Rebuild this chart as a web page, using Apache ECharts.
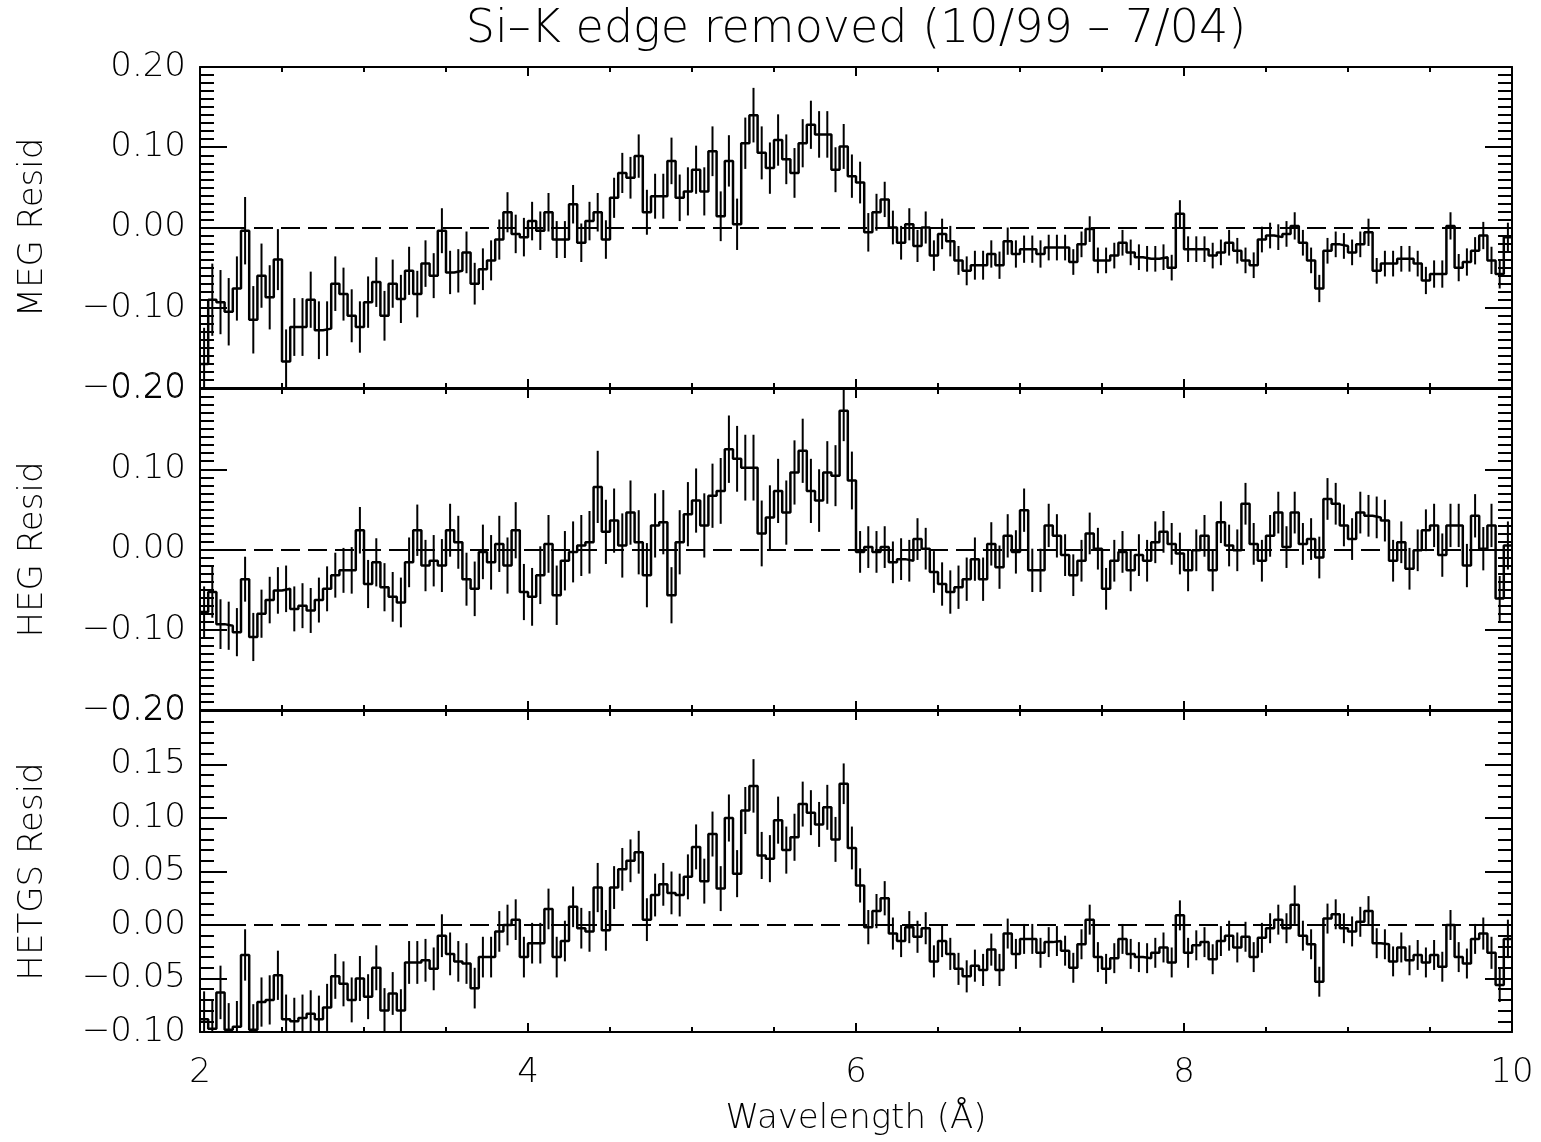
<!DOCTYPE html>
<html>
<head>
<meta charset="utf-8">
<script src="https://cdn.jsdelivr.net/npm/echarts@6/dist/echarts.min.js"></script>
<style>
  html, body { margin: 0; padding: 0; background: #fff; }
  #chart { width: 1541px; height: 1142px; }
</style>
</head>
<body>
<div id="chart"></div>
<script>
// bins of 0.05 A starting at 2 A
let lambdaStart = 2;
let binWidth = 0.05;

let megResid = [
  -0.17, -0.09, -0.093, -0.105, -0.076, -0.004, -0.115, -0.06, -0.087, -0.04,
  -0.167, -0.124, -0.124, -0.09, -0.128, -0.126, -0.07, -0.083, -0.11, -0.124,
  -0.093, -0.068, -0.11, -0.07, -0.089, -0.054, -0.083, -0.045, -0.06, -0.004,
  -0.056, -0.054, -0.031, -0.07, -0.052, -0.041, -0.015, 0.019, -0.008, -0.012,
  0.008, -0.004, 0.019, -0.015, -0.015, 0.029, -0.019, 0.008, 0.019, -0.015,
  0.037, 0.068, 0.062, 0.089, 0.019, 0.039, 0.039, 0.083, 0.037, 0.045,
  0.072, 0.045, 0.095, 0.014, 0.083, 0.004, 0.105, 0.14, 0.093, 0.074,
  0.109, 0.085, 0.068, 0.105, 0.128, 0.116, 0.116, 0.072, 0.101, 0.064,
  0.056, -0.006, 0.019, 0.035, 0, -0.019, 0.004, -0.023, 0, -0.035,
  -0.008, -0.017, -0.041, -0.054, -0.047, -0.047, -0.033, -0.047, -0.017, -0.033,
  -0.027, -0.027, -0.033, -0.025, -0.025, -0.025, -0.043, -0.021, -0.002, -0.041,
  -0.041, -0.035, -0.019, -0.031, -0.037, -0.039, -0.039, -0.037, -0.05, 0.017,
  -0.027, -0.027, -0.027, -0.035, -0.031, -0.019, -0.029, -0.041, -0.047, -0.015,
  -0.01, -0.012, -0.008, 0.002, -0.019, -0.041, -0.076, -0.029, -0.021, -0.023,
  -0.031, -0.021, -0.006, -0.054, -0.045, -0.045, -0.039, -0.039, -0.045, -0.066,
  -0.058, -0.058, 0.002, -0.05, -0.043, -0.029, -0.01, -0.041, -0.058, -0.012
];
let megErr = [
  0.045, 0.045, 0.04, 0.042, 0.04, 0.042, 0.042, 0.04, 0.04, 0.038,
  0.04, 0.036, 0.036, 0.035, 0.036, 0.034, 0.034, 0.033, 0.033, 0.032,
  0.032, 0.031, 0.031, 0.03, 0.03, 0.03, 0.029, 0.029, 0.028, 0.028,
  0.027, 0.027, 0.026, 0.026, 0.026, 0.025, 0.025, 0.025, 0.024, 0.024,
  0.024, 0.024, 0.024, 0.023, 0.023, 0.024, 0.024, 0.024, 0.024, 0.024,
  0.025, 0.025, 0.026, 0.027, 0.028, 0.028, 0.028, 0.029, 0.029, 0.03,
  0.03, 0.03, 0.031, 0.031, 0.032, 0.032, 0.032, 0.034, 0.033, 0.032,
  0.032, 0.031, 0.031, 0.03, 0.03, 0.029, 0.029, 0.028, 0.028, 0.027,
  0.026, 0.024, 0.023, 0.022, 0.021, 0.021, 0.02, 0.02, 0.02, 0.019,
  0.019, 0.019, 0.018, 0.018, 0.018, 0.018, 0.017, 0.017, 0.017, 0.017,
  0.017, 0.017, 0.017, 0.016, 0.016, 0.016, 0.016, 0.016, 0.016, 0.016,
  0.016, 0.016, 0.016, 0.016, 0.016, 0.016, 0.016, 0.016, 0.016, 0.017,
  0.016, 0.016, 0.016, 0.016, 0.016, 0.016, 0.016, 0.016, 0.016, 0.016,
  0.016, 0.016, 0.016, 0.017, 0.016, 0.016, 0.017, 0.016, 0.016, 0.016,
  0.016, 0.016, 0.017, 0.016, 0.016, 0.016, 0.016, 0.016, 0.016, 0.017,
  0.017, 0.017, 0.017, 0.017, 0.017, 0.017, 0.017, 0.017, 0.018, 0.018
];

let hegResid = [
  -0.078, -0.053, -0.093, -0.095, -0.103, -0.037, -0.109, -0.08, -0.063, -0.051,
  -0.049, -0.074, -0.07, -0.076, -0.063, -0.049, -0.032, -0.026, -0.026, 0.024,
  -0.043, -0.016, -0.047, -0.059, -0.066, -0.016, 0.024, -0.02, -0.014, -0.02,
  0.024, 0.009, -0.037, -0.049, -0.003, -0.016, 0.007, -0.02, 0.024, -0.053,
  -0.059, -0.032, 0.007, -0.057, -0.014, -0.003, 0.005, 0.009, 0.078, 0.022,
  0.036, 0.005, 0.046, 0.009, -0.032, 0.03, 0.034, -0.057, 0.009, 0.044,
  0.061, 0.03, 0.067, 0.073, 0.125, 0.113, 0.102, 0.102, 0.02, 0.04,
  0.073, 0.046, 0.096, 0.123, 0.073, 0.061, 0.096, 0.092, 0.173, 0.086,
  -0.003, 0.003, -0.003, 0.003, -0.016, -0.012, -0.014, 0.013, 0.001, -0.028,
  -0.043, -0.053, -0.047, -0.037, -0.012, -0.037, 0.007, -0.022, 0.017, -0.003,
  0.049, -0.026, -0.026, 0.03, 0.017, -0.007, -0.032, -0.014, 0.02, 0.001,
  -0.049, -0.014, -0.003, -0.026, -0.007, -0.014, 0.009, 0.022, 0.007, -0.005,
  -0.026, -0.001, 0.017, -0.026, 0.034, 0.005, -0.001, 0.057, 0.007, -0.014,
  0.017, 0.046, 0.003, 0.046, 0.007, 0.013, -0.01, 0.063, 0.057, 0.03,
  0.013, 0.046, 0.042, 0.04, 0.036, -0.014, 0.009, -0.024, -0.001, 0.024,
  0.03, -0.007, 0.03, 0.03, -0.02, 0.042, 0.001, 0.03, -0.061, 0.005
];
let hegErr = [
  0.032, 0.032, 0.031, 0.03, 0.03, 0.028, 0.03, 0.03, 0.029, 0.029,
  0.029, 0.028, 0.028, 0.028, 0.028, 0.028, 0.028, 0.028, 0.029, 0.029,
  0.03, 0.03, 0.03, 0.031, 0.031, 0.031, 0.032, 0.032, 0.032, 0.033,
  0.033, 0.033, 0.033, 0.034, 0.034, 0.034, 0.035, 0.035, 0.035, 0.035,
  0.036, 0.036, 0.036, 0.037, 0.037, 0.038, 0.038, 0.039, 0.045, 0.04,
  0.04, 0.04, 0.04, 0.04, 0.04, 0.04, 0.04, 0.035, 0.04, 0.04,
  0.04, 0.04, 0.04, 0.041, 0.042, 0.041, 0.041, 0.041, 0.041, 0.04,
  0.04, 0.04, 0.04, 0.04, 0.04, 0.039, 0.039, 0.038, 0.038, 0.036,
  0.026, 0.026, 0.026, 0.026, 0.026, 0.026, 0.026, 0.026, 0.026, 0.026,
  0.027, 0.027, 0.027, 0.027, 0.027, 0.027, 0.027, 0.027, 0.027, 0.027,
  0.027, 0.027, 0.027, 0.027, 0.027, 0.026, 0.026, 0.026, 0.026, 0.026,
  0.026, 0.026, 0.026, 0.026, 0.026, 0.026, 0.026, 0.026, 0.026, 0.026,
  0.026, 0.026, 0.026, 0.026, 0.026, 0.026, 0.026, 0.026, 0.026, 0.026,
  0.026, 0.026, 0.026, 0.026, 0.026, 0.026, 0.026, 0.026, 0.026, 0.026,
  0.026, 0.026, 0.026, 0.026, 0.026, 0.026, 0.026, 0.026, 0.026, 0.026,
  0.027, 0.027, 0.027, 0.027, 0.027, 0.027, 0.027, 0.027, 0.028, 0.03
];

let hetgsResid = [
  -0.088, -0.097, -0.063, -0.098, -0.095, -0.028, -0.098, -0.072, -0.07, -0.047,
  -0.088, -0.09, -0.087, -0.083, -0.088, -0.077, -0.048, -0.055, -0.07, -0.05,
  -0.067, -0.04, -0.08, -0.064, -0.08, -0.035, -0.035, -0.033, -0.041, -0.01,
  -0.027, -0.034, -0.036, -0.059, -0.03, -0.03, -0.006, 0, 0.005, -0.03,
  -0.017, -0.017, 0.015, -0.03, -0.015, 0.017, -0.003, -0.006, 0.035, -0.005,
  0.035, 0.052, 0.06, 0.068, 0.005, 0.028, 0.038, 0.03, 0.028, 0.045,
  0.073, 0.041, 0.085, 0.034, 0.1, 0.048, 0.107, 0.13, 0.065, 0.062,
  0.098, 0.07, 0.082, 0.113, 0.105, 0.094, 0.11, 0.08, 0.132, 0.072,
  0.037, -0.002, 0.013, 0.025, -0.008, -0.015, -0.002, -0.011, -0.003, -0.034,
  -0.015, -0.027, -0.041, -0.048, -0.038, -0.042, -0.023, -0.042, -0.008, -0.027,
  -0.013, -0.013, -0.026, -0.016, -0.015, -0.024, -0.04, -0.018, 0.005, -0.03,
  -0.041, -0.031, -0.013, -0.027, -0.03, -0.031, -0.026, -0.021, -0.035, 0.009,
  -0.026, -0.019, -0.016, -0.032, -0.015, -0.01, -0.021, -0.011, -0.03, -0.012,
  -0.003, 0.005, -0.003, 0.019, -0.01, -0.018, -0.053, 0.006, 0.01, -0.003,
  -0.006, 0.003, 0.013, -0.017, -0.018, -0.034, -0.021, -0.033, -0.028, -0.035,
  -0.028, -0.039, 0, -0.03, -0.036, -0.013, -0.008, -0.026, -0.056, -0.013
];
let hetgsErr = [
  0.026, 0.026, 0.025, 0.025, 0.024, 0.024, 0.024, 0.023, 0.023, 0.023,
  0.023, 0.022, 0.022, 0.022, 0.022, 0.022, 0.021, 0.021, 0.021, 0.021,
  0.021, 0.021, 0.021, 0.02, 0.02, 0.02, 0.02, 0.02, 0.02, 0.02,
  0.02, 0.019, 0.019, 0.019, 0.019, 0.019, 0.019, 0.019, 0.019, 0.019,
  0.019, 0.019, 0.019, 0.019, 0.019, 0.019, 0.019, 0.019, 0.023, 0.019,
  0.02, 0.02, 0.02, 0.02, 0.02, 0.02, 0.02, 0.02, 0.02, 0.021,
  0.021, 0.021, 0.021, 0.021, 0.022, 0.022, 0.022, 0.025, 0.022, 0.022,
  0.022, 0.022, 0.022, 0.021, 0.021, 0.021, 0.021, 0.021, 0.019, 0.02,
  0.016, 0.016, 0.016, 0.016, 0.015, 0.015, 0.015, 0.015, 0.015, 0.015,
  0.015, 0.015, 0.015, 0.015, 0.015, 0.015, 0.015, 0.015, 0.014, 0.014,
  0.014, 0.014, 0.014, 0.014, 0.014, 0.014, 0.014, 0.014, 0.014, 0.014,
  0.014, 0.014, 0.014, 0.014, 0.014, 0.014, 0.014, 0.014, 0.014, 0.014,
  0.014, 0.014, 0.014, 0.014, 0.014, 0.014, 0.014, 0.014, 0.014, 0.014,
  0.014, 0.014, 0.014, 0.018, 0.014, 0.014, 0.014, 0.014, 0.014, 0.014,
  0.014, 0.014, 0.014, 0.014, 0.014, 0.014, 0.014, 0.014, 0.014, 0.014,
  0.014, 0.014, 0.014, 0.014, 0.014, 0.014, 0.015, 0.015, 0.016, 0.018
];

let titleText = 'Si–K edge removed (10/99 – 7/04)';
let xName = 'Wavelength (Å)';

let panels = [
  { name: 'MEG Resid', resid: megResid, err: megErr, min: -0.2, max: 0.2, interval: 0.1, minor: 10 },
  { name: 'HEG Resid', resid: hegResid, err: hegErr, min: -0.2, max: 0.2, interval: 0.1, minor: 10 },
  { name: 'HETGS Resid', resid: hetgsResid, err: hetgsErr, min: -0.1, max: 0.2, interval: 0.05, minor: 5 }
];

let fontFamily = 'DejaVu Sans';
let fontWeight = 200;
let ink = '#000';
let gridTops = [67, 389, 711];
let gridHeight = 321;

let fmtY = (v) => {
  if (Math.abs(v) < 1e-9) return '0.00';
  return (v < 0 ? '\u2212' : '') + Math.abs(v).toFixed(2);
};

let xAxisFor = (i, position, withLabels) => {
  return {
    type: 'value', gridIndex: i, position: position,
    min: 2, max: 10, interval: 2,
    axisLine: { onZero: false, lineStyle: { color: ink, width: 2 } },
    axisTick: { inside: true, length: 9, lineStyle: { color: ink, width: 2 } },
    minorTick: { show: true, splitNumber: 4, length: 5, lineStyle: { color: ink, width: 2 } },
    splitLine: { show: false },
    minorSplitLine: { show: false },
    axisLabel: { show: withLabels, color: ink, fontSize: 34, fontFamily: fontFamily, fontWeight: fontWeight, margin: 24 },
    name: withLabels ? xName : '',
    nameLocation: 'middle',
    nameGap: 70,
    nameTextStyle: { color: ink, fontSize: 34, fontFamily: fontFamily, fontWeight: fontWeight }
  };
};

let yAxisFor = (i, p, position) => {
  let left = position === 'left';
  return {
    type: 'value', gridIndex: i, position: position,
    min: p.min, max: p.max, interval: p.interval,
    axisLine: { onZero: false, lineStyle: { color: ink, width: 2 } },
    axisTick: { inside: true, length: 27, lineStyle: { color: ink, width: 2 } },
    minorTick: { show: true, splitNumber: p.minor, length: 14, lineStyle: { color: ink, width: 2 } },
    splitLine: { show: false },
    minorSplitLine: { show: false },
    axisLabel: { show: left, color: ink, fontSize: 34, fontFamily: fontFamily, fontWeight: fontWeight, margin: 14, formatter: fmtY },
    name: left ? p.name : '',
    nameLocation: 'middle',
    nameGap: 150,
    nameTextStyle: { color: ink, fontSize: 34, fontFamily: fontFamily, fontWeight: fontWeight }
  };
};

let grids = [], xAxes = [], yAxes = [], series = [];

panels.forEach((p, i) => {
  grids.push({ left: 200, right: 29, top: gridTops[i], height: gridHeight, outerBoundsMode: 'none' });

  xAxes.push(xAxisFor(i, 'bottom', i === panels.length - 1));
  xAxes.push(xAxisFor(i, 'top', false));
  yAxes.push(yAxisFor(i, p, 'left'));
  yAxes.push(yAxisFor(i, p, 'right'));

  // histogram steps drawn from bin left edges, closed at 10 A
  let steps = p.resid.map((v, k) => [lambdaStart + k * binWidth, v]);
  steps.push([lambdaStart + p.resid.length * binWidth, p.resid[p.resid.length - 1]]);

  series.push({
    type: 'line',
    xAxisIndex: 2 * i,
    yAxisIndex: 2 * i,
    step: 'end',
    data: steps,
    showSymbol: false,
    symbol: 'none',
    silent: true,
    lineStyle: { color: ink, width: 2.5 },
    markLine: {
      silent: true,
      symbol: 'none',
      label: { show: false },
      lineStyle: { color: ink, width: 2, type: [19, 8] },
      data: [{ yAxis: 0 }]
    }
  });

  let bars = p.resid.map((v, k) => [lambdaStart + (k + 0.5) * binWidth, v, p.err[k]]);

  series.push({
    type: 'custom',
    xAxisIndex: 2 * i,
    yAxisIndex: 2 * i,
    silent: true,
    data: bars,
    encode: { x: 0, y: 1 },
    renderItem: (params, api) => {
      let x = api.value(0);
      let lo = Math.max(api.value(1) - api.value(2), p.min);
      let hi = Math.min(api.value(1) + api.value(2), p.max);
      let a = api.coord([x, lo]);
      let b = api.coord([x, hi]);
      return {
        type: 'line',
        shape: { x1: a[0], y1: a[1], x2: b[0], y2: b[1] },
        style: { stroke: ink, lineWidth: 2 }
      };
    }
  });
});

let options = {
  backgroundColor: '#fff',
  animation: false,
  title: {
    text: titleText,
    left: 856,
    top: 7,
    padding: 0,
    textAlign: 'center',
    textStyle: { color: ink, fontSize: 46, fontWeight: fontWeight, fontFamily: fontFamily }
  },
  grid: grids,
  xAxis: xAxes,
  yAxis: yAxes,
  series: series
};

let chart = echarts.init(document.getElementById('chart'));
chart.setOption(options);
</script>
</body>
</html>
